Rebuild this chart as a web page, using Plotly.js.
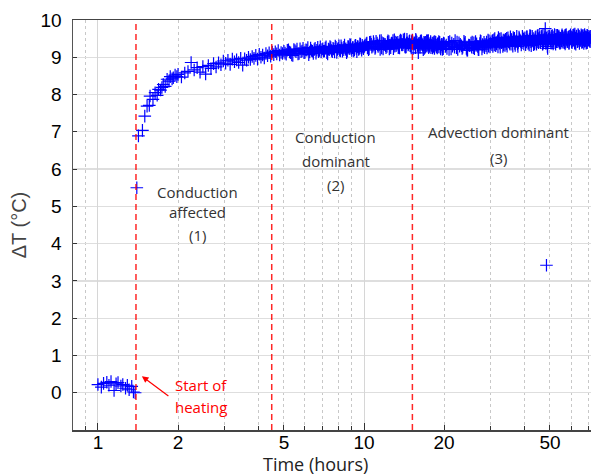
<!DOCTYPE html>
<html>
<head>
<meta charset="utf-8">
<script src="https://cdn.plot.ly/plotly-3.0.1.min.js"></script>
<style>html,body{margin:0;padding:0;background:#fff;}#chart{width:591px;height:476px;}</style>
</head>
<body>
<div id="chart"></div>
<script>
// ---- Data ----
const preTime = [1.00,1.03,1.05,1.08,1.10,1.12,1.15,1.17,1.19,1.22,1.24,1.27,1.29,1.31,1.34,1.36,1.38];
const preDeltaT = [0.22,0.15,0.25,0.28,0.20,0.30,0.06,0.24,0.27,0.18,0.22,0.12,0.20,0.08,0.17,0.02,0.00];

const heatTime = [
 1.40,1.42,1.47,1.50,1.53,1.56,1.57,1.61,1.64,1.67,1.69,1.72,1.74,1.76,1.79,1.82,1.85,1.87,1.90,1.92,1.95,1.98,
 2.00,2.06,2.12,2.18,2.24,2.30,2.36,2.42,2.48,2.54,2.60,2.66,2.72,2.78,2.84,2.90,2.96,3.02,3.08,3.14,3.20,3.26,3.32,3.38,3.44,3.50,3.56,3.62,3.68,3.74,3.80,3.86,3.92,3.98,4.04,4.10,4.16,4.22,4.28,4.34,4.40,4.46,4.52,4.58,4.64,4.70,4.76,4.82,4.88,4.94,
 5.0,5.1,5.2,5.3,5.4,5.5,5.6,5.7,5.8,5.9,6.0,6.1,6.2,6.3,6.4,6.5,6.6,6.7,6.8,6.9,7.0,7.1,7.2,7.3,7.4,7.5,7.6,7.7,7.8,7.9,8.0,8.1,8.2,8.3,8.4,8.5,8.6,8.7,8.8,8.9,9.0,9.1,9.2,9.3,9.4,9.5,9.6,9.7,9.8,9.9,
 10.0,10.2,10.4,10.6,10.8,11.0,11.2,11.4,11.6,11.8,12.0,12.2,12.4,12.6,12.8,13.0,13.2,13.4,13.6,13.8,14.0,14.2,14.4,14.6,14.8,15.0,15.2,15.4,15.6,15.8,16.0,16.2,16.4,16.6,16.8,17.0,17.2,17.4,17.6,17.8,18.0,18.2,18.4,18.6,18.8,19.0,19.2,19.4,19.6,19.8,
 20.0,20.5,21.0,21.5,22.0,22.5,23.0,23.5,24.0,24.5,25.0,25.5,26.0,26.5,27.0,27.5,28.0,28.5,29.0,29.5,
 30.0,30.5,31.0,31.5,32.0,32.5,33.0,33.5,34.0,34.5,35.0,35.5,36.0,36.5,37.0,37.5,38.0,38.5,39.0,39.5,
 40.0,40.5,41.0,41.5,42.0,42.5,43.0,43.5,44.0,44.5,45.0,45.5,46.0,46.5,47.0,47.5,48.0,48.5,49.0,49.5,
 50.0,50.5,51.0,51.5,52.0,52.5,53.0,53.5,54.0,54.5,55.0,55.5,56.0,56.5,57.0,57.5,58.0,58.5,59.0,59.5,
 60.0,60.5,61.0,61.5,62.0,62.5,63.0,63.5,64.0,64.5,65.0,65.5,66.0,66.5,67.0,67.5,68.0,68.5,69.0,69.5,
 70.0,70.5
];
const heatDeltaT = [
 5.50,6.89,7.04,7.42,7.69,7.71,7.96,7.87,8.05,7.98,8.14,8.12,8.19,8.27,8.22,8.41,8.36,8.48,8.42,8.45,8.52,8.48,
 8.54,8.47,8.58,8.62,8.86,8.66,8.72,8.60,8.75,8.55,8.78,8.70,8.83,8.74,8.85,8.80,8.90,8.84,8.92,8.81,8.95,8.88,8.93,8.86,8.97,8.79,8.96,8.92,9.00,8.94,9.02,8.97,9.05,8.95,9.08,9.00,9.06,8.98,9.10,9.04,9.12,9.03,9.14,9.07,9.15,9.09,9.18,9.06,9.13,9.10,
 9.16,9.08,9.20,9.12,9.05,9.18,9.22,9.10,9.15,9.24,9.13,9.19,9.07,9.25,9.16,9.21,9.11,9.27,9.18,9.14,
 9.23,9.17,9.28,9.09,9.20,9.26,9.15,9.22,9.30,9.13,9.24,9.19,9.31,9.16,9.27,9.21,9.12,9.29,9.23,9.33,
 9.18,9.26,9.20,9.32,9.15,9.28,9.24,9.35,9.19,9.27,
 9.28,9.36,9.20,9.41,9.30,9.24,9.38,9.33,9.45,9.22,9.35,9.29,9.42,9.26,9.37,9.47,9.31,9.40,9.25,9.44,
 9.34,9.49,9.28,9.39,9.43,9.30,9.46,9.36,9.26,9.41,9.12,9.38,9.45,9.32,9.40,9.27,9.44,9.35,9.29,9.42,
 9.31,9.37,9.24,9.40,9.33,9.28,9.38,9.22,9.35,9.30,
 9.37,9.24,9.42,9.30,9.45,9.21,9.35,9.27,9.40,9.19,9.31,9.41,9.23,9.36,9.20,9.43,9.29,9.35,9.25,9.44,
 9.42,9.29,9.50,9.36,9.53,9.27,9.41,9.33,9.48,9.30,9.44,9.55,9.35,9.49,9.32,9.56,9.40,9.47,9.33,9.52,
 9.47,9.34,9.55,9.40,9.58,9.31,9.45,9.38,9.53,9.35,9.48,9.59,9.39,9.52,9.36,9.60,9.44,9.51,9.24,9.56,
 9.52,9.38,9.58,9.45,9.61,9.35,9.49,9.42,9.57,9.37,9.50,9.60,9.40,9.54,9.36,9.61,9.45,9.52,9.38,9.57,
 9.53,9.39,9.59,9.46,9.62,9.35,9.50,9.43,9.58,9.37,9.49,9.60,9.41,9.55,9.37,9.61,9.46,9.53,9.39,9.56,
 9.50,9.44
];
// readings taken between the ones above (dense part of the record)
const heatTimeMid = [
 5.05,5.15,5.25,5.35,5.45,5.55,5.65,5.75,5.85,5.95,6.05,6.15,6.25,6.35,6.45,6.55,6.65,6.75,6.85,6.95,7.05,7.15,7.25,7.35,7.45,7.55,7.65,7.75,7.85,7.95,8.05,8.15,8.25,8.35,8.45,8.55,8.65,8.75,8.85,8.95,9.05,9.15,9.25,9.35,9.45,9.55,9.65,9.75,9.85,9.95,
 10.1,10.3,10.5,10.7,10.9,11.1,11.3,11.5,11.7,11.9,12.1,12.3,12.5,12.7,12.9,13.1,13.3,13.5,13.7,13.9,14.1,14.3,14.5,14.7,14.9,15.1,15.3,15.5,15.7,15.9,16.1,16.3,16.5,16.7,16.9,17.1,17.3,17.5,17.7,17.9,18.1,18.3,18.5,18.7,18.9,19.1,19.3,19.5,19.7,19.9,
 20.25,20.75,21.25,21.75,22.25,22.75,23.25,23.75,24.25,24.75,25.25,25.75,26.25,26.75,27.25,27.75,28.25,28.75,29.25,29.75,
 30.25,30.75,31.25,31.75,32.25,32.75,33.25,33.75,34.25,34.75,35.25,35.75,36.25,36.75,37.25,37.75,38.25,38.75,39.25,39.75,
 40.25,40.75,41.25,41.75,42.25,42.75,43.25,43.75,44.25,44.75,45.25,45.75,46.25,46.75,47.25,47.75,48.25,48.75,49.25,49.75,
 50.25,50.75,51.25,51.75,52.25,52.75,53.25,53.75,54.25,54.75,55.25,55.75,56.25,56.75,57.25,57.75,58.25,58.75,59.25,59.75,
 60.25,60.75,61.25,61.75,62.25,62.75,63.25,63.75,64.25,64.75,65.25,65.75,66.25,66.75,67.25,67.75,68.25,68.75,69.25,69.75,
 70.25,70.75
];
const heatDeltaTMid = [
 9.11,9.19,9.14,9.06,9.21,9.15,9.09,9.23,9.17,9.12,9.20,9.26,9.14,9.18,9.10,9.24,9.19,9.15,9.28,9.21,
 9.16,9.25,9.12,9.22,9.29,9.18,9.24,9.14,9.27,9.21,9.31,9.17,9.25,9.20,9.33,9.23,9.16,9.28,9.34,9.22,
 9.26,9.17,9.31,9.24,9.29,9.21,9.36,9.25,9.32,9.23,
 9.33,9.25,9.40,9.27,9.36,9.43,9.29,9.21,9.39,9.34,9.26,9.44,9.32,9.38,9.23,9.41,9.35,9.28,9.46,9.33,
 9.40,9.27,9.48,9.35,9.31,9.42,9.24,9.39,9.45,9.33,9.29,9.43,9.36,9.20,9.39,9.31,9.44,9.26,9.37,9.33,
 9.25,9.41,9.34,9.28,9.36,9.42,9.27,9.33,9.21,9.38,
 9.29,9.40,9.22,9.35,9.26,9.39,9.31,9.43,9.24,9.33,9.38,9.26,9.42,9.29,9.37,9.22,9.40,9.31,9.46,9.28,
 9.34,9.47,9.31,9.44,9.38,9.50,9.29,9.45,9.36,9.52,9.38,9.48,9.30,9.51,9.42,9.36,9.54,9.44,9.39,9.49,
 9.52,9.41,9.46,9.33,9.57,9.43,9.50,9.36,9.55,9.42,9.39,9.53,9.45,9.58,9.41,9.49,9.37,9.55,9.43,9.50,
 9.46,9.56,9.41,9.53,9.39,9.59,9.47,9.54,9.40,9.51,9.44,9.56,9.47,9.39,9.59,9.48,9.42,9.55,9.46,9.60,
 9.41,9.52,9.47,9.57,9.40,9.54,9.48,9.61,9.44,9.52,9.45,9.57,9.42,9.51,9.59,9.44,9.53,9.40,9.58,9.47,
 9.55,9.42
];
// further readings in the densest part of the record (10-71 h)
const heatTimeLate = [
 10.05,10.25,10.45,10.65,10.85,11.05,11.25,11.45,11.65,11.85,12.05,12.25,12.45,12.65,12.85,13.05,13.25,13.45,13.65,13.85,
 14.05,14.25,14.45,14.65,14.85,15.05,15.25,15.45,15.65,15.85,16.05,16.25,16.45,16.65,16.85,17.05,17.25,17.45,17.65,17.85,
 18.05,18.25,18.45,18.65,18.85,19.05,19.25,19.45,19.65,19.85,
 20.375,20.875,21.375,21.875,22.375,22.875,23.375,23.875,24.375,24.875,25.375,25.875,26.375,26.875,27.375,27.875,28.375,28.875,29.375,29.875,
 30.375,30.875,31.375,31.875,32.375,32.875,33.375,33.875,34.375,34.875,35.375,35.875,36.375,36.875,37.375,37.875,38.375,38.875,39.375,39.875,
 40.375,40.875,41.375,41.875,42.375,42.875,43.375,43.875,44.375,44.875,45.375,45.875,46.375,46.875,47.375,47.875,48.375,48.875,49.375,49.875,
 50.375,50.875,51.375,51.875,52.375,52.875,53.375,53.875,54.375,54.875,55.375,55.875,56.375,56.875,57.375,57.875,58.375,58.875,59.375,59.875,
 60.375,60.875,61.375,61.875,62.375,62.875,63.375,63.875,64.375,64.875,65.375,65.875,66.375,66.875,67.375,67.875,68.375,68.875,69.375,69.875,
 70.375,70.875
];
const heatDeltaTLate = [
 9.30,9.38,9.23,9.35,9.42,9.27,9.33,9.44,9.25,9.37,9.31,9.40,9.22,9.36,9.45,9.30,9.39,9.26,9.43,9.34,
 9.47,9.29,9.38,9.33,9.44,9.25,9.41,9.36,9.48,9.31,9.37,9.27,9.42,9.34,9.24,9.40,9.30,9.45,9.33,9.26,
 9.38,9.29,9.42,9.32,9.25,9.36,9.40,9.28,9.34,9.23,
 9.33,9.21,9.38,9.27,9.41,9.30,9.24,9.36,9.19,9.32,9.27,9.39,9.32,9.21,9.44,9.34,9.26,9.41,9.30,9.37,
 9.45,9.33,9.40,9.28,9.49,9.39,9.46,9.32,9.51,9.41,9.35,9.46,9.53,9.37,9.44,9.29,9.50,9.41,9.56,9.36,
 9.43,9.55,9.37,9.49,9.42,9.56,9.34,9.47,9.40,9.58,9.50,9.42,9.56,9.35,9.47,9.53,9.40,9.29,9.48,9.57,
 9.43,9.50,9.36,9.55,9.48,9.42,9.59,9.45,9.52,9.39,9.57,9.43,9.51,9.58,9.41,9.53,9.47,9.38,9.56,9.49,
 9.55,9.44,9.60,9.38,9.51,9.57,9.42,9.49,9.56,9.46,9.52,9.40,9.58,9.47,9.43,9.55,9.38,9.59,9.45,9.51,
 9.48,9.56
];
const outlierTime = [48.0, 48.5];
const outlierDeltaT = [9.77, 3.42];

const phaseBoundaries = [1.39, 4.5, 15.2];   // hours: start of heating, region limits

const xTickVals = [1, 2, 5, 10, 20, 50];
const xTickText = ['1', '2', '5', '10', '20', '50'];
const xMinorVals = [0.9, 2, 3, 4, 5, 6, 7, 8, 9, 20, 30, 40, 50, 60, 70];
const xDecadeVals = [1, 10];
const yTickVals = [0, 1, 2, 3, 4, 5, 6, 7, 8, 9, 10];

const xRange = [Math.log10(0.806), Math.log10(71.3)];

// ---- Traces ----
const markerStyle = {symbol: 'cross-thin', size: 9, color: 'rgb(0,0,255)', line: {color: 'rgb(0,0,255)', width: 1.2}};
const traces = [
  {x: preTime, y: preDeltaT, type: 'scatter', mode: 'markers', marker: markerStyle, xaxis: 'x2', yaxis: 'y', hoverinfo: 'x+y'},
  {x: heatTime, y: heatDeltaT, type: 'scatter', mode: 'markers', marker: markerStyle, hoverinfo: 'x+y'},
  {x: heatTimeMid, y: heatDeltaTMid, type: 'scatter', mode: 'markers', marker: markerStyle, hoverinfo: 'x+y'},
  {x: heatTimeLate, y: heatDeltaTLate, type: 'scatter', mode: 'markers', marker: markerStyle, hoverinfo: 'x+y'},
  {x: outlierTime, y: outlierDeltaT, type: 'scatter', mode: 'markers', marker: markerStyle, hoverinfo: 'x+y'}
];

const textFont = {family: 'Open Sans, sans-serif', size: 15, color: '#333'};
const redFont = {family: 'Open Sans, sans-serif', size: 15, color: '#ff0000'};
function label(text, x, y, font) {
  return {text: text, xref: 'paper', yref: 'paper', x: x, y: y, xanchor: 'center', yanchor: 'middle', showarrow: false, borderpad: 0, font: font || textFont};
}

const annotations = [
  label('Conduction', 0.2394, 0.5812),
  label('affected', 0.2394, 0.5317),
  label('(1)', 0.2394, 0.4756),
  label('Conduction', 0.5077, 0.7146),
  label('dominant', 0.5077, 0.6568),
  label('(2)', 0.5077, 0.5976),
  label('Advection dominant', 0.8205, 0.7276),
  label('(3)', 0.8205, 0.6641),
  label('Start of', 0.2471, 0.1098, redFont),
  label('heating', 0.2471, 0.0568, redFont),
  // x-axis title, placed like the reference (at the bottom edge of the picture)
  label('Time (hours)', 0.4672, -0.0830, {family: 'Open Sans, sans-serif', size: 18, color: '#222'}),
  {text: '', x: Math.log10(1.463), y: 0.445, xref: 'x', yref: 'y', showarrow: true,
   ax: 28, ay: 21, arrowcolor: '#ff0000', arrowwidth: 1.2, arrowhead: 2, arrowsize: 1.1, standoff: 0}
];

const shapes = phaseBoundaries.map(v => ({
  type: 'line', xref: 'x', yref: 'paper', x0: v, x1: v, y0: 0, y1: 1,
  line: {color: 'rgba(255,0,0,0.85)', width: 1.5, dash: '6px,4px'}
}));

const tickFont = {family: 'Liberation Sans, Arial, sans-serif', size: 19, color: '#000'};

const layout = {
  width: 591, height: 476,
  margin: {l: 73, r: 0, t: 20, b: 46, pad: 0},
  paper_bgcolor: '#fff', plot_bgcolor: '#fff',
  showlegend: false,
  xaxis: {
    type: 'log', range: xRange, autorange: false,
    tickmode: 'array', tickvals: xTickVals, ticktext: xTickText,
    ticks: 'inside', ticklen: 5, tickwidth: 1, tickcolor: '#333',
    tickfont: tickFont, ticklabelstandoff: -5,
    showgrid: false, zeroline: false,
    showline: true, linecolor: '#444', linewidth: 1.5, mirror: true,
    minor: {tickmode: 'array', tickvals: xMinorVals, ticks: 'inside', ticklen: 4, tickcolor: '#333',
            showgrid: true, gridcolor: '#c8c8c8', griddash: 'dot', gridwidth: 1},
    automargin: false
  },
  xaxis2: {
    type: 'log', range: xRange, autorange: false, overlaying: 'x', matches: 'x',
    tickmode: 'array', tickvals: xDecadeVals, showticklabels: false,
    ticks: 'inside', ticklen: 7, tickcolor: '#333',
    showgrid: true, gridcolor: '#d6d6d6', gridwidth: 1, zeroline: false, showline: false
  },
  yaxis: {
    range: [-1, 10], autorange: false,
    tickmode: 'array', tickvals: yTickVals,
    ticks: 'inside', ticklen: 4, tickcolor: '#333',
    tickfont: tickFont, ticklabelstandoff: 6,
    showgrid: true, gridcolor: '#dedede', gridwidth: 1.2, zeroline: false,
    showline: true, linecolor: '#555', linewidth: 1.5,
    title: {text: 'ΔT (°C)', font: {family: 'Liberation Sans, Arial, sans-serif', size: 20, color: '#444'}, standoff: 8},
    automargin: false
  },
  shapes: shapes,
  annotations: annotations
};

Plotly.newPlot('chart', traces, layout, {staticPlot: true, displayModeBar: false});
</script>
</body>
</html>
